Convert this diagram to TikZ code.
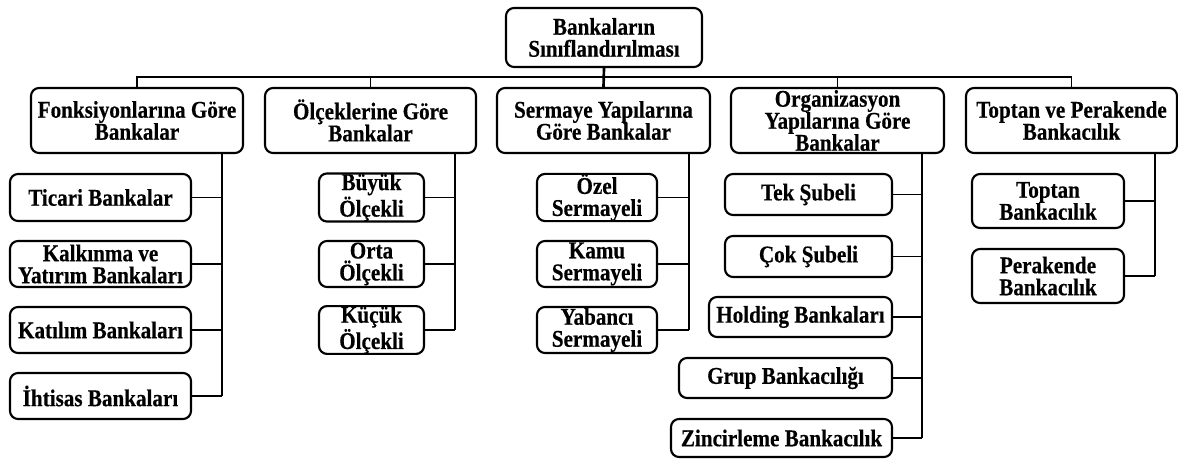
\documentclass[tikz,border=0pt]{standalone}
\usepackage{fontspec}
\setmainfont{Liberation Serif}[FakeStretch=0.88, BoldFeatures={FakeBold=0.4}]
\begin{document}
\begin{tikzpicture}[x=0.75pt,y=-0.75pt,
  box/.style={draw=black, line width=1.6pt, rounded corners=6pt, align=center,
    inner sep=0pt, fill=white, font=\fontsize{18pt}{16.5pt}\selectfont\bfseries},
  conn/.style={draw=black, line width=0.95pt},
  rootconn/.style={draw=black, line width=2pt}]
\useasboundingbox (0,0) rectangle (1178,459);
\newcommand\bxnode[6]{\node[box, minimum width={(#4-#2)*0.75pt}, minimum height={(#5-#3)*0.75pt}] (#1) at ({(#2+#4)/2},{(#3+#5)/2}) {#6};}
% root
\bxnode{root}{506}{8}{702}{67}{Bankaların\\Sınıflandırılması}
% level 1
\bxnode{fonks}{31}{88}{243}{153}{Fonksiyonlarına Göre\\Bankalar}
\bxnode{olcek}{265}{88}{476}{153}{Ölçeklerine Göre\\Bankalar}
\bxnode{serm}{497}{88}{710}{153}{Sermaye Yapılarına\\Göre Bankalar}
\bxnode{org}{731}{88}{944}{153}{Organizasyon\\Yapılarına Göre\\Bankalar}
\bxnode{topt}{966}{88}{1177}{153}{Toptan ve Perakende\\Bankacılık}
% fonksiyon children
\bxnode{ticari}{10}{174}{191}{221}{Ticari Bankalar}
\bxnode{kalk}{10}{241}{191}{287}{Kalkınma ve\\Yatırım Bankaları}
\bxnode{kat}{10}{307}{191}{353}{Katılım Bankaları}
\bxnode{iht}{10}{373}{191}{419}{İhtisas Bankaları}
% olcek children
\bxnode{buyuk}{319}{174}{424}{221}{Büyük\\Ölçekli}
\bxnode{orta}{319}{241}{424}{287}{Orta\\Ölçekli}
\bxnode{kucuk}{319}{307}{424}{353}{Küçük\\Ölçekli}
% sermaye children
\bxnode{ozel}{537}{174}{657}{221}{Özel\\Sermayeli}
\bxnode{kamu}{537}{241}{657}{287}{Kamu\\Sermayeli}
\bxnode{yab}{537}{307}{657}{353}{Yabancı\\Sermayeli}
% organizasyon children
\bxnode{tek}{725}{174}{892}{215}{Tek Şubeli}
\bxnode{cok}{725}{236}{892}{277}{Çok Şubeli}
\bxnode{hold}{709}{297}{892}{337}{Holding Bankaları}
\bxnode{grup}{679}{358}{892}{398}{Grup Bankacılığı}
\bxnode{zinc}{671}{419}{892}{457}{Zincirleme Bankacılık}
% toptan children
\bxnode{toptb}{972}{174}{1124}{228}{Toptan\\Bankacılık}
\bxnode{perak}{972}{249}{1124}{303}{Perakende\\Bankacılık}
% bus
\coordinate (bus) at (0,77);
\draw[conn] (fonks.north) -- (fonks.north |- bus) -- (topt.north |- bus) -- (topt.north);
\draw[conn] (olcek.north) -- (olcek.north |- bus);
\draw[conn] (org.north) -- (org.north |- bus);
\draw[rootconn] (root.south) -- (serm.north);
% child spines
\coordinate (fv) at (222,0);
\coordinate (ov) at (455,0);
\coordinate (sv) at (689,0);
\coordinate (gv) at (922,0);
\coordinate (tv) at (1155,0);
\draw[conn] (fonks.south -| fv) -- (iht.east -| fv);
\foreach \n in {ticari,kalk,kat,iht} \draw[conn] (\n.east) -- (\n.east -| fv);
\draw[conn] (olcek.south -| ov) -- (kucuk.east -| ov);
\foreach \n in {buyuk,orta,kucuk} \draw[conn] (\n.east) -- (\n.east -| ov);
\draw[conn] (serm.south -| sv) -- (yab.east -| sv);
\foreach \n in {ozel,kamu,yab} \draw[conn] (\n.east) -- (\n.east -| sv);
\draw[conn] (org.south -| gv) -- (zinc.east -| gv);
\foreach \n in {tek,cok,hold,grup,zinc} \draw[conn] (\n.east) -- (\n.east -| gv);
\draw[conn] (topt.south -| tv) -- (perak.east -| tv);
\foreach \n in {toptb,perak} \draw[conn] (\n.east) -- (\n.east -| tv);
\end{tikzpicture}
\end{document}
